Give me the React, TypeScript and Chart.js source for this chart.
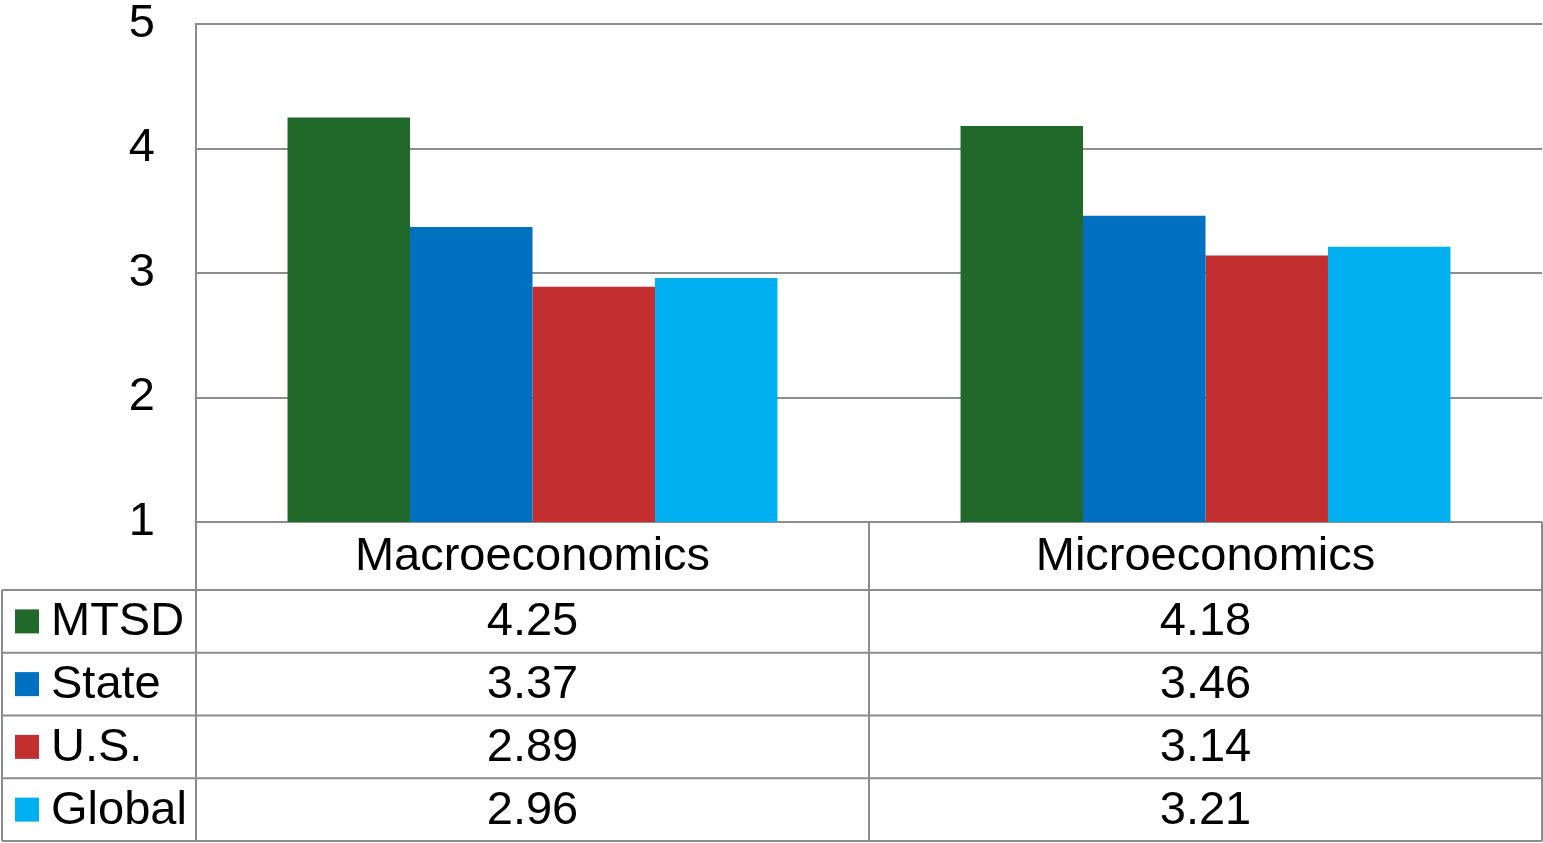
import React, { useEffect, useRef } from "react";
import { Chart, registerables } from "chart.js";

Chart.register(...registerables);

const categories = ["Macroeconomics", "Microeconomics"];
const seriesNames = ["MTSD", "State", "U.S.", "Global"];
const mtsd = [4.25, 4.18];
const state = [3.37, 3.46];
const us = [2.89, 3.14];
const global = [2.96, 3.21];
const valueLabels = [
  ["4.25", "4.18"],
  ["3.37", "3.46"],
  ["2.89", "3.14"],
  ["2.96", "3.21"],
];
const colors = ["#21682B", "#0070C0", "#C32E2F", "#00B0F0"];

const FONT = "'Liberation Sans', Arial, sans-serif";
const FS = 47;
const LINE = "#8C8C8C";

const tablePlugin = {
  id: "dataTable",
  afterDraw(chart: any) {
    const ctx = chart.ctx;
    const area = chart.chartArea;
    const xs = chart.scales.x;
    const top = area.bottom;
    const headerH = 68;
    const bottom = chart.height - 2;
    const rowsTop = top + headerH;
    const rowH = (bottom - rowsTop) / seriesNames.length;
    const leftEdge = 2;
    const n = categories.length;
    const catW = (area.right - area.left) / n;

    ctx.save();
    ctx.strokeStyle = LINE;
    ctx.lineWidth = 2;
    ctx.beginPath();
    for (let i = 0; i <= n; i++) {
      const x = i === n ? area.right : area.left + i * catW;
      ctx.moveTo(x, top);
      ctx.lineTo(x, bottom);
    }
    ctx.moveTo(leftEdge, rowsTop);
    ctx.lineTo(leftEdge, bottom);
    for (let r = 0; r <= seriesNames.length; r++) {
      const y = rowsTop + r * rowH;
      ctx.moveTo(leftEdge, y);
      ctx.lineTo(area.right, y);
    }
    ctx.stroke();

    ctx.fillStyle = "#000";
    ctx.font = `${FS}px ${FONT}`;
    ctx.textAlign = "center";
    ctx.textBaseline = "middle";
    categories.forEach((c, i) => {
      const cx = xs.getPixelForValue(i);
      ctx.fillText(c, cx, top + headerH / 2 + 1);
    });
    seriesNames.forEach((s, r) => {
      const cy = rowsTop + r * rowH + rowH / 2;
      ctx.fillStyle = colors[r];
      ctx.fillRect(15, cy - 12, 24, 24);
      ctx.fillStyle = "#000";
      ctx.textAlign = "left";
      ctx.fillText(s, 51, cy + 1);
      ctx.textAlign = "center";
      categories.forEach((_, i) => {
        const cx = xs.getPixelForValue(i);
        ctx.fillText(valueLabels[r][i], cx, cy + 1);
      });
    });
    ctx.restore();
  },
};

export default function App() {
  const ref = useRef<HTMLCanvasElement>(null);
  useEffect(() => {
    if (!ref.current) return;
    const chart = new Chart(ref.current, {
      type: "bar",
      data: {
        labels: categories,
        datasets: [mtsd, state, us, global].map((d, i) => ({
          label: seriesNames[i],
          data: d,
          backgroundColor: colors[i],
          borderWidth: 0,
          barPercentage: 1,
          categoryPercentage: 0.728,
        })),
      },
      options: {
        responsive: false,
        animation: false,
        layout: { padding: { top: 24, bottom: 321, right: 1, left: 0 } },
        plugins: { legend: { display: false }, tooltip: { enabled: false } },
        scales: {
          x: { display: false },
          y: {
            min: 1,
            max: 5,
            ticks: {
              stepSize: 1,
              color: "#000",
              font: { size: FS, family: FONT },
              padding: 41,
            },
            grid: { color: LINE, lineWidth: 2, drawTicks: false },
            border: { display: true, color: LINE, width: 2 },
            afterFit(scale: any) {
              scale.width = 196;
              scale.paddingTop = 0;
              scale.paddingBottom = 0;
            },
          },
        },
      },
      plugins: [tablePlugin],
    });
    return () => chart.destroy();
  }, []);
  return (
    <div style={{ position: "absolute", left: 0, top: 0, width: 1543, height: 843, background: "#fff" }}>
      <canvas ref={ref} width={1543} height={843} style={{ display: "block" }} />
    </div>
  );
}
